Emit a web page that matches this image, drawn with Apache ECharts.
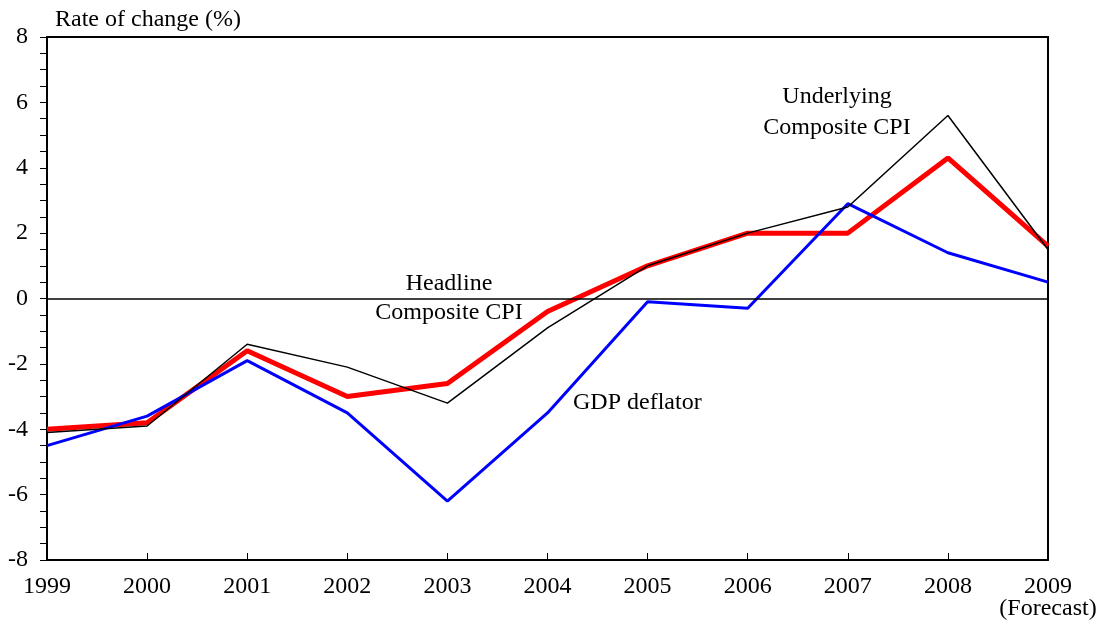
<!DOCTYPE html>
<html>
<head>
<meta charset="utf-8">
<script src="https://cdn.jsdelivr.net/npm/echarts@6/dist/echarts.min.js"></script>
<style>
  html, body { margin: 0; padding: 0; background: #fff; }
  #main { width: 1109px; height: 621px; }
</style>
</head>
<body>
<div id="main"></div>
<script>
// years on the x axis
var years = ['1999', '2000', '2001', '2002', '2003', '2004', '2005', '2006', '2007', '2008', '2009']
// headline composite CPI (red, thick)
var headline = [-4.0, -3.8, -1.6, -3.0, -2.6, -0.4, 1.0, 2.0, 2.0, 4.3, 1.6]
// underlying composite CPI (black, thin)
var underlying = [-4.1, -3.9, -1.4, -2.1, -3.2, -0.9, 1.0, 2.0, 2.8, 5.6, 1.5]
// GDP deflator (blue)
var gdpDeflator = [-4.5, -3.6, -1.9, -3.5, -6.2, -3.5, -0.1, -0.3, 2.9, 1.4, 0.5]

var fontFamily = '"Liberation Serif", "DejaVu Serif", serif'
var txt = { fontFamily: fontFamily, fontSize: 24, color: '#000' }

var myChart = echarts.init(document.getElementById('main'))

var option = {
    animation: false,
    backgroundColor: '#fff',
    grid: { left: 47, right: 61, top: 37, bottom: 61 },
    xAxis: [
        {
            type: 'category',
            data: years,
            boundaryGap: false,
            axisLine: { onZero: false, lineStyle: { color: '#000', width: 2 } },
            axisTick: { inside: true, interval: 0, length: 7, lineStyle: { color: '#000', width: 1 } },
            axisLabel: {
                interval: 0,
                margin: 16,
                fontFamily: fontFamily,
                fontSize: 24,
                color: '#000',
                lineHeight: 22,
                formatter: function (v) {
                    return v === '2009' ? '2009\n(Forecast)' : v
                }
            },
            splitLine: { show: false }
        },
        {
            // top frame line
            type: 'category',
            position: 'top',
            data: years,
            boundaryGap: false,
            axisLine: { onZero: false, lineStyle: { color: '#000', width: 2 } },
            axisTick: { show: false },
            axisLabel: { show: false }
        }
    ],
    yAxis: [
        {
            type: 'value',
            min: -8,
            max: 8,
            interval: 2,
            axisLine: { show: true, onZero: false, lineStyle: { color: '#000', width: 2 } },
            axisTick: { show: true, length: 7, lineStyle: { color: '#000', width: 1 } },
            minorTick: { show: true, splitNumber: 4, length: 7, lineStyle: { color: '#000', width: 1 } },
            axisLabel: { margin: 19, fontFamily: fontFamily, fontSize: 24, color: '#000' },
            splitLine: { show: false }
        },
        {
            // right frame line
            type: 'value',
            position: 'right',
            min: -8,
            max: 8,
            interval: 2,
            axisLine: { show: true, onZero: false, lineStyle: { color: '#000', width: 2 } },
            axisTick: { show: false },
            axisLabel: { show: false },
            splitLine: { show: false }
        }
    ],
    series: [
        {
            name: 'Headline Composite CPI',
            type: 'line',
            data: headline,
            symbol: 'none',
            color: '#ff0000',
            lineStyle: { width: 5, color: '#ff0000' },
            z: 3,
            markLine: {
                silent: true,
                symbol: 'none',
                label: { show: false },
                lineStyle: { color: '#000', width: 1.5, type: 'solid' },
                data: [{ yAxis: 0 }]
            }
        },
        {
            name: 'GDP deflator',
            type: 'line',
            data: gdpDeflator,
            symbol: 'none',
            color: '#0000ff',
            lineStyle: { width: 3, color: '#0000ff' },
            z: 4
        },
        {
            name: 'Underlying Composite CPI',
            type: 'line',
            data: underlying,
            symbol: 'none',
            color: '#000',
            lineStyle: { width: 1.5, color: '#000' },
            z: 5
        }
    ],
    graphic: [
        { type: 'text', left: 55, top: 8, style: Object.assign({ text: 'Rate of change (%)' }, txt) },
        { type: 'text', x: 837, y: 81, style: Object.assign({ text: 'Underlying\nComposite CPI', align: 'center', lineHeight: 31 }, txt) },
        { type: 'text', x: 449, y: 269, style: Object.assign({ text: 'Headline\nComposite CPI', align: 'center', lineHeight: 29 }, txt) },
        { type: 'text', x: 573, y: 391, style: Object.assign({ text: 'GDP deflator' }, txt) }
    ]
}

myChart.setOption(option)
window.addEventListener('resize', () => {
    myChart.resize()
})
</script>
</body>
</html>
